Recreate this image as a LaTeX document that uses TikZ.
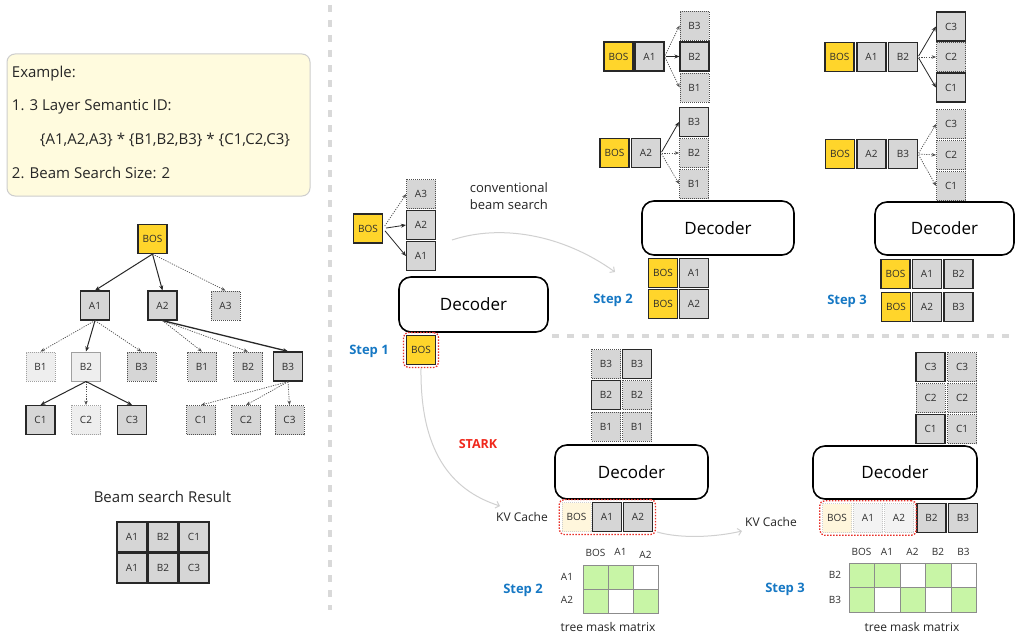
\documentclass[tikz,border=0pt]{standalone}
\usepackage{fontspec}
\setmainfont{Open Sans}
\usepackage{xcolor}
\usetikzlibrary{arrows.meta,fit}

\definecolor{bosYellow}{RGB}{255,213,43}
\definecolor{tokGrey}{RGB}{214,214,214}
\definecolor{tokPale}{RGB}{238,238,238}
\definecolor{tokText}{RGB}{45,45,45}
\definecolor{lineDark}{RGB}{40,40,40}
\definecolor{lineMid}{RGB}{80,80,80}
\definecolor{lineLight}{RGB}{160,160,160}
\definecolor{kvCream}{RGB}{255,246,220}
\definecolor{kvRed}{RGB}{232,48,40}
\definecolor{stepBlue}{RGB}{22,120,196}
\definecolor{starkRed}{RGB}{240,40,28}
\definecolor{maskGreen}{RGB}{200,245,166}
\definecolor{maskLine}{RGB}{140,140,140}
\definecolor{noteCream}{RGB}{255,251,222}
\definecolor{noteLine}{RGB}{205,205,205}
\definecolor{sepGrey}{RGB}{217,217,217}
\definecolor{flowGrey}{RGB}{208,208,208}

\begin{document}
\begin{tikzpicture}[x=1pt,y=1pt,yscale=-1,xscale=1,
  tok/.style={rectangle,minimum width=29,minimum height=29,inner sep=0pt,font=\fontsize{10}{12}\selectfont,text=tokText},
  bos/.style={tok,draw=lineDark,line width=1.1pt,fill=bosYellow},
  kept/.style={tok,draw=lineDark,line width=1.1pt,fill=tokGrey},
  cand/.style={tok,draw=lineMid,line width=0.8pt,dash pattern=on 1pt off 1pt,fill=tokGrey},
  faint/.style={tok,draw=lineLight,line width=0.8pt,dash pattern=on 1pt off 1pt,fill=tokPale},
  faintsolid/.style={tok,draw=lineLight,line width=1pt,fill=tokPale},
  cached/.style={tok,draw=lineLight!50,line width=0.6pt,dash pattern=on 1pt off 1pt,fill=kvCream},
  cachedgrey/.style={tok,draw=lineLight!60,line width=0.6pt,dash pattern=on 1pt off 1pt,fill=tokPale!70},
  decoder/.style={draw=black,line width=1.6pt,rounded corners=12pt,fill=white,font=\fontsize{17}{20}\selectfont},
  steplbl/.style={inner sep=0.75pt,text=stepBlue,font=\fontsize{13}{15}\selectfont\bfseries},
  lbl/.style={inner sep=0.75pt,font=\fontsize{10}{12}\selectfont,text=tokText},
  txt/.style={inner sep=0.75pt,font=\fontsize{12.5}{16}\selectfont,text=black!85},
  kvbox/.style={draw=kvRed,line width=1.3pt,dash pattern=on 1.5pt off 1.5pt,rounded corners=5pt,inner sep=2.5pt},
  keeparrow/.style={-{Stealth[length=5pt,width=4pt]},line width=1pt,draw=lineDark},
  droparrow/.style={-{Stealth[length=4.5pt,width=3.5pt]},line width=0.7pt,draw=lineMid,dash pattern=on 1.2pt off 1.2pt},
  flowcurve/.style={-{Straight Barb[length=3.5pt,width=7pt]},line width=1pt,draw=flowGrey},
  divider/.style={draw=sepGrey,line width=4pt,dash pattern=on 7pt off 8pt},
  maskon/.style={fill=maskGreen,draw=maskLine,line width=0.8pt},
  maskoff/.style={fill=white,draw=maskLine,line width=0.8pt}
]
\useasboundingbox[fill=white] (0,0) rectangle (1016,634);

%Dividers
\draw[divider] (330,5) -- (330,610);
\draw[divider,line width=3.5pt] (552,336) -- (1016,336);

%Shape: Example note
\draw[draw=noteLine,line width=1pt,fill=noteCream,rounded corners=8pt] (7,54) rectangle (310,196);
% Text Node
\node[txt,anchor=west,font=\fontsize{15}{18}\selectfont] (exTitle) at (11,74) {Example:};
% Text Node
\node[txt,anchor=west,font=\fontsize{15}{18}\selectfont] (exLayer) at (11,107) {1. 3 Layer Semantic ID:};
% Text Node
\node[txt,anchor=west,font=\fontsize{15}{18}\selectfont] (exSet) at (39,140) {\{A1,A2,A3\} * \{B1,B2,B3\} * \{C1,C2,C3\}};
% Text Node
\node[txt,anchor=west,font=\fontsize{15}{18}\selectfont] (exBeam) at (11,173) {2. Beam Search Size: 2};

%Tree
\node[bos] (tBOS) at (152.5,239) {BOS};
\node[kept] (tA1) at (95,305.5) {A1};
\node[kept] (tA2) at (162.5,305.5) {A2};
\node[cand] (tA3) at (225.5,305.5) {A3};
\node[faint] (tB1a) at (40.5,366.5) {B1};
\node[faintsolid] (tB2a) at (86,366.5) {B2};
\node[cand] (tB3a) at (141.5,366.5) {B3};
\node[cand] (tB1b) at (202,366.5) {B1};
\node[cand] (tB2b) at (248,366.5) {B2};
\node[kept,line width=1.4pt] (tB3b) at (288,366.5) {B3};
\node[kept] (tC1a) at (40.5,420) {C1};
\node[faint] (tC2a) at (86,420) {C2};
\node[kept] (tC3a) at (132,420) {C3};
\node[cand] (tC1b) at (201,420) {C1};
\node[cand] (tC2b) at (246,420) {C2};
\node[cand] (tC3b) at (289.5,420) {C3};

\draw[keeparrow] (tBOS.south) -- (tA1.north);
\draw[keeparrow] (tBOS.south) -- (tA2.north);
\draw[droparrow] (tBOS.south) -- (tA3.north);
\draw[droparrow] (tA1.south) -- (tB1a.north);
\draw[keeparrow] (tA1.south) -- (tB2a.north);
\draw[droparrow] (tA1.south) -- (tB3a.north);
\draw[droparrow] (tA2.south) -- (tB1b.north);
\draw[droparrow] (tA2.south) -- (tB2b.north);
\draw[keeparrow,line width=1.3pt] (tA2.south) -- (tB3b.north);
\draw[keeparrow] (tB2a.south) -- (tC1a.north);
\draw[droparrow] (tB2a.south) -- (tC2a.north);
\draw[keeparrow] (tB2a.south) -- (tC3a.north);
\draw[droparrow] (tB3b.south) -- (tC1b.north);
\draw[droparrow] (tB3b.south) -- (tC2b.north);
\draw[droparrow] (tB3b.south) -- (tC3b.north);

% Text Node
\node[txt,font=\fontsize{15}{18}\selectfont] (resTitle) at (162.5,497) {Beam search Result};
\node[kept,minimum width=30,minimum height=30,line width=1.3pt] (rA1a) at (132,537) {A1};
\node[kept,minimum width=30,minimum height=30,line width=1.3pt] (rB2a) at (163,537) {B2};
\node[kept,minimum width=30,minimum height=30,line width=1.3pt] (rC1a) at (194,537) {C1};
\node[kept,minimum width=30,minimum height=30,line width=1.3pt] (rA1b) at (132,568) {A1};
\node[kept,minimum width=30,minimum height=30,line width=1.3pt] (rB2b) at (163,568) {B2};
\node[kept,minimum width=30,minimum height=30,line width=1.3pt] (rC3b) at (194,568) {C3};

%Step 1
\node[bos] (s1BOS) at (368,228.5) {BOS};
\node[cand] (s1A3) at (421,194) {A3};
\node[kept] (s1A2) at (421,225) {A2};
\node[kept] (s1A1) at (421,256) {A1};
\draw[droparrow,shorten <=3pt] (s1BOS.east) -- (s1A3.west);
\draw[keeparrow,line width=0.8pt,shorten <=3pt] (s1BOS.east) -- (s1A2.west);
\draw[keeparrow,line width=0.8pt,shorten <=3pt] (s1BOS.east) -- (s1A1.west);
\node[decoder,minimum width=149,minimum height=55] (s1dec) at (473.5,304.5) {Decoder};
\node[bos] (s1in) at (421,350) {BOS};
\node[kvbox,fit=(s1in)] (s1fit) {};
% Text Node
\node[steplbl] (s1lbl) at (369,351) {Step 1};
% Text Node
\node[txt,anchor=north west,align=left,font=\fontsize{13}{17}\selectfont] (convTxt) at (469,182) {conventional\\beam search};
\coordinate (convS) at (452,240);
\coordinate (convE) at (615,272);
\draw[flowcurve] (convS) .. controls (500,224) and (562,234) .. (convE);

%Step 2 (conventional)
\node[bos] (p2BOSa) at (618.5,56.5) {BOS};
\node[kept] (p2A1) at (649.5,56.5) {A1};
\node[cand] (p2B3a) at (694.5,25.5) {B3};
\node[kept] (p2B2a) at (694.5,56.5) {B2};
\node[cand] (p2B1a) at (694.5,87.5) {B1};
\draw[droparrow,shorten <=1pt] (p2A1.east) -- (p2B3a.west);
\draw[keeparrow,line width=0.8pt,shorten <=1pt] (p2A1.east) -- (p2B2a.west);
\draw[droparrow,shorten <=1pt] (p2A1.east) -- (p2B1a.west);
\node[bos] (p2BOSb) at (614.5,153) {BOS};
\node[kept] (p2A2) at (646,153) {A2};
\node[kept] (p2B3b) at (694,122) {B3};
\node[cand] (p2B2b) at (694,153) {B2};
\node[cand] (p2B1b) at (694,184) {B1};
\draw[keeparrow,line width=0.8pt,shorten <=1pt] (p2A2.east) -- (p2B3b.west);
\draw[droparrow,shorten <=1pt] (p2A2.east) -- (p2B2b.west);
\draw[droparrow,shorten <=1pt] (p2A2.east) -- (p2B1b.west);
\node[decoder,minimum width=152,minimum height=54] (p2dec) at (718,228) {Decoder};
\node[bos] (p2inBOSa) at (663,273) {BOS};
\node[kept] (p2inA1) at (694,273) {A1};
\node[bos] (p2inBOSb) at (663,304) {BOS};
\node[kept] (p2inA2) at (694,304) {A2};
% Text Node
\node[steplbl] (p2lbl) at (613,300) {Step 2};

%Step 3 (conventional)
\node[bos] (p3BOSa) at (839.5,57) {BOS};
\node[kept] (p3A1) at (871.5,57) {A1};
\node[kept] (p3B2) at (903,57) {B2};
\node[kept] (p3C3a) at (951,26.5) {C3};
\node[cand] (p3C2a) at (951,57) {C2};
\node[kept] (p3C1a) at (951,87.5) {C1};
\draw[keeparrow,line width=0.8pt,shorten <=1pt] (p3B2.east) -- (p3C3a.west);
\draw[droparrow,shorten <=1pt] (p3B2.east) -- (p3C2a.west);
\draw[keeparrow,line width=0.8pt,shorten <=1pt] (p3B2.east) -- (p3C1a.west);
\node[bos] (p3BOSb) at (840,154) {BOS};
\node[kept] (p3A2) at (871.5,154) {A2};
\node[kept] (p3B3) at (903,154) {B3};
\node[cand] (p3C3b) at (951,124) {C3};
\node[cand] (p3C2b) at (951,155) {C2};
\node[cand] (p3C1b) at (951,186) {C1};
\draw[droparrow,shorten <=1pt] (p3B3.east) -- (p3C3b.west);
\draw[droparrow,shorten <=1pt] (p3B3.east) -- (p3C2b.west);
\draw[droparrow,shorten <=1pt] (p3B3.east) -- (p3C1b.west);
\node[decoder,minimum width=139,minimum height=53] (p3dec) at (944.5,228.5) {Decoder};
\node[bos] (p3inBOSa) at (895.5,274) {BOS};
\node[kept] (p3inA1) at (927,274) {A1};
\node[kept] (p3inB2) at (958.5,274) {B2};
\node[bos] (p3inBOSb) at (896,307) {BOS};
\node[kept] (p3inA2) at (927,307) {A2};
\node[kept] (p3inB3) at (958.5,307) {B3};
% Text Node
\node[steplbl] (p3lbl) at (847,301) {Step 3};

%STARK curve
% Text Node
\node[inner sep=0.75pt,text=starkRed,font=\fontsize{12.5}{15}\selectfont\bfseries] (starkTxt) at (478,444) {STARK};
\coordinate (starkE) at (500,506);
\draw[flowcurve] (s1fit.south) .. controls (420,450) and (450,490) .. (starkE);

%Step 2 (STARK)
\node[cand] (k2B3a) at (606,364) {B3};
\node[kept] (k2B2a) at (606,395) {B2};
\node[cand] (k2B1a) at (606,426.5) {B1};
\node[kept] (k2B3b) at (637,364) {B3};
\node[cand] (k2B2b) at (637,395) {B2};
\node[cand] (k2B1b) at (637,426.5) {B1};
\node[decoder,minimum width=153,minimum height=54] (k2dec) at (631.5,472) {Decoder};
\node[cached] (k2BOS) at (576.5,517) {BOS};
\node[kept] (k2A1) at (607,517) {A1};
\node[kept] (k2A2) at (638,517) {A2};
\node[kvbox,fit=(k2BOS)(k2A2)] (k2fit) {};
% Text Node
\node[txt,font=\fontsize{12}{14}\selectfont] (k2kv) at (522,517) {KV Cache};
\coordinate (kvS) at (657,532);
\coordinate (kvE) at (742,531);
\draw[flowcurve] (kvS) .. controls (682,539) and (716,537) .. (kvE);
%mask matrix
\draw[maskon] (583,565) rectangle (608,589);
\draw[maskon] (608,565) rectangle (633,589);
\draw[maskoff] (633,565) rectangle (658,589);
\draw[maskon] (583,589) rectangle (608,613);
\draw[maskoff] (608,589) rectangle (633,613);
\draw[maskon] (633,589) rectangle (658,613);
\node[lbl] (m2cBOS) at (595.5,553) {BOS};
\node[lbl] (m2cA1) at (620.5,552) {A1};
\node[lbl] (m2cA2) at (645.5,555) {A2};
\node[lbl] (m2rA1) at (567,577) {A1};
\node[lbl] (m2rA2) at (567,600) {A2};
% Text Node
\node[steplbl] (k2lbl) at (523,590) {Step 2};
% Text Node
\node[txt,font=\fontsize{12}{14}\selectfont] (m2cap) at (608,627) {tree mask matrix};

%Step 3 (STARK)
\node[kept] (k3C3a) at (930.5,367) {C3};
\node[cand] (k3C2a) at (930.5,398) {C2};
\node[kept] (k3C1a) at (930.5,429) {C1};
\node[cand] (k3C3b) at (962,367) {C3};
\node[cand] (k3C2b) at (962,398) {C2};
\node[cand] (k3C1b) at (962,429) {C1};
\node[decoder,minimum width=164,minimum height=53] (k3dec) at (895,472.5) {Decoder};
\node[cached] (k3BOS) at (837,518) {BOS};
\node[cachedgrey] (k3A1) at (868,518) {A1};
\node[cachedgrey] (k3A2) at (899,518) {A2};
\node[kept] (k3B2) at (931.5,518) {B2};
\node[kept] (k3B3) at (963,518) {B3};
\node[kvbox,fit=(k3BOS)(k3A2)] (k3fit) {};
% Text Node
\node[txt,font=\fontsize{12}{14}\selectfont] (k3kv) at (771,522) {KV Cache};
%mask matrix
\draw[maskon] (849,563) rectangle (874,587);
\draw[maskon] (874,563) rectangle (900,587);
\draw[maskoff] (900,563) rectangle (925,587);
\draw[maskon] (925,563) rectangle (951,587);
\draw[maskoff] (951,563) rectangle (976,587);
\draw[maskon] (849,587) rectangle (874,612);
\draw[maskoff] (874,587) rectangle (900,612);
\draw[maskon] (900,587) rectangle (925,612);
\draw[maskoff] (925,587) rectangle (951,612);
\draw[maskon] (951,587) rectangle (976,612);
\node[lbl] (m3cBOS) at (861.5,552) {BOS};
\node[lbl] (m3cA1) at (887,552) {A1};
\node[lbl] (m3cA2) at (912.5,552) {A2};
\node[lbl] (m3cB2) at (938,552) {B2};
\node[lbl] (m3cB3) at (963.5,552) {B3};
\node[lbl] (m3rB2) at (835,575) {B2};
\node[lbl] (m3rB3) at (835,600) {B3};
% Text Node
\node[steplbl] (k3lbl) at (785,589) {Step 3};
% Text Node
\node[txt,font=\fontsize{12}{14}\selectfont] (m3cap) at (912,627) {tree mask matrix};

\end{tikzpicture}
\end{document}
